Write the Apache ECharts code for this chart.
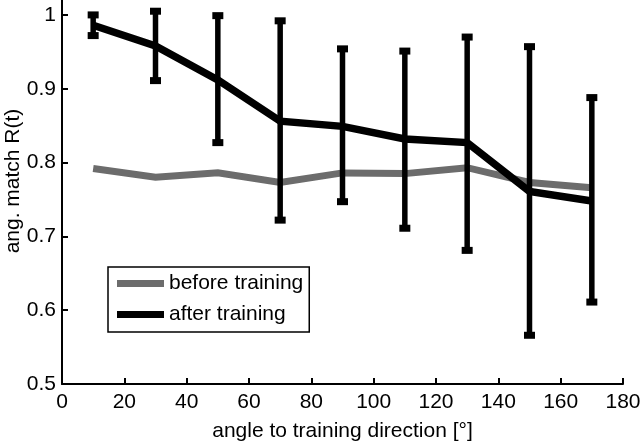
<!DOCTYPE html>
<html>
<head>
<meta charset="utf-8">
<script src="https://cdn.jsdelivr.net/npm/echarts@6/dist/echarts.min.js"></script>
<style>
html,body{margin:0;padding:0;background:#fff;}
#chart{width:640px;height:443px;}
</style>
</head>
<body>
<div id="chart"></div>
<script>
const angles = [10, 30, 50, 70, 90, 110, 130, 150, 170];
const beforeTraining = [0.792, 0.780, 0.786, 0.773, 0.786, 0.785, 0.793, 0.773, 0.766];
const afterTraining = [0.986, 0.958, 0.912, 0.856, 0.849, 0.832, 0.827, 0.761, 0.748];
const afterLow = [0.972, 0.911, 0.827, 0.722, 0.747, 0.711, 0.681, 0.566, 0.611];
const afterHigh = [1.000, 1.005, 0.999, 0.992, 0.954, 0.951, 0.970, 0.957, 0.888];
const xTicks = [0, 20, 40, 60, 80, 100, 120, 140, 160, 180];
const yTicks = [0.5, 0.6, 0.7, 0.8, 0.9, 1];

const FONT = 'Liberation Sans, Arial, Helvetica, sans-serif';
const FS = 21;
const chart = echarts.init(document.getElementById('chart'), null, {renderer: 'canvas'});

const errData = angles.map((a, i) => [a, afterLow[i], afterHigh[i]]);

chart.setOption({
  animation: false,
  backgroundColor: '#fff',
  textStyle: {fontFamily: FONT, color: '#000'},
  grid: {left: 62, right: 17, top: -22, bottom: 59, containLabel: false, outerBoundsMode: 'none'},
  legend: {
    orient: 'vertical',
    left: 108, top: 267,
    padding: [6, 6, 7, 9],
    itemGap: 10,
    itemWidth: 47, itemHeight: 7,
    icon: 'rect',
    borderColor: '#000', borderWidth: 1.5,
    backgroundColor: '#fff',
    textStyle: {fontFamily: FONT, fontSize: FS, color: '#000', lineHeight: 21},
    data: ['before training', 'after training']
  },
  xAxis: {
    type: 'value', min: 0, max: 180, interval: 20,
    name: 'angle to training direction [°]',
    nameLocation: 'middle', nameGap: 37, nameMoveOverlap: false,
    nameTextStyle: {fontFamily: FONT, fontSize: FS, color: '#000'},
    axisLine: {show: true, onZero: false, lineStyle: {color: '#000', width: 2}},
    axisTick: {show: true, inside: true, length: 6, lineStyle: {color: '#000', width: 2}, customValues: xTicks},
    axisLabel: {fontFamily: FONT, fontSize: FS, color: '#000', margin: 8, customValues: xTicks},
    splitLine: {show: false}
  },
  yAxis: {
    type: 'value', min: 0.5, max: 1.05, interval: 0.1,
    name: 'ang. match R(t)',
    nameLocation: 'middle', nameGap: 38, nameMoveOverlap: false,
    nameTextStyle: {fontFamily: FONT, fontSize: FS, color: '#000'},
    axisLine: {show: true, onZero: false, lineStyle: {color: '#000', width: 2}},
    axisTick: {show: true, inside: true, length: 6, lineStyle: {color: '#000', width: 2}, customValues: yTicks},
    axisLabel: {fontFamily: FONT, fontSize: FS, color: '#000', margin: 6, customValues: yTicks,
      formatter: v => (Math.round(v * 10) / 10).toString()},
    splitLine: {show: false}
  },
  series: [
    {
      name: 'before training', type: 'line',
      data: angles.map((a, i) => [a, beforeTraining[i]]),
      showSymbol: false, symbol: 'none',
      color: '#6c6c6c',
      lineStyle: {color: '#6c6c6c', width: 7, join: 'miter'},
      itemStyle: {color: '#6c6c6c'},
      z: 2
    },
    {
      name: 'after training', type: 'line',
      data: angles.map((a, i) => [a, afterTraining[i]]),
      showSymbol: false, symbol: 'none',
      color: '#000',
      lineStyle: {color: '#000', width: 7.5, join: 'miter'},
      itemStyle: {color: '#000'},
      z: 3
    },
    {
      name: 'err', type: 'custom',
      data: errData,
      encode: {x: 0, y: [1, 2]},
      z: 4,
      renderItem: function (params, api) {
        const x = api.value(0);
        const lo = api.coord([x, api.value(1)]);
        const hi = api.coord([x, api.value(2)]);
        const cw = 11, ch = 7;
        return {
          type: 'group',
          children: [
            {type: 'line', shape: {x1: lo[0], y1: lo[1], x2: hi[0], y2: hi[1]}, style: {stroke: '#000', lineWidth: 5.5}},
            {type: 'rect', shape: {x: hi[0] - cw / 2, y: hi[1] - ch / 2, width: cw, height: ch}, style: {fill: '#000'}},
            {type: 'rect', shape: {x: lo[0] - cw / 2, y: lo[1] - ch / 2, width: cw, height: ch}, style: {fill: '#000'}}
          ]
        };
      }
    }
  ]
});
</script>
</body>
</html>
